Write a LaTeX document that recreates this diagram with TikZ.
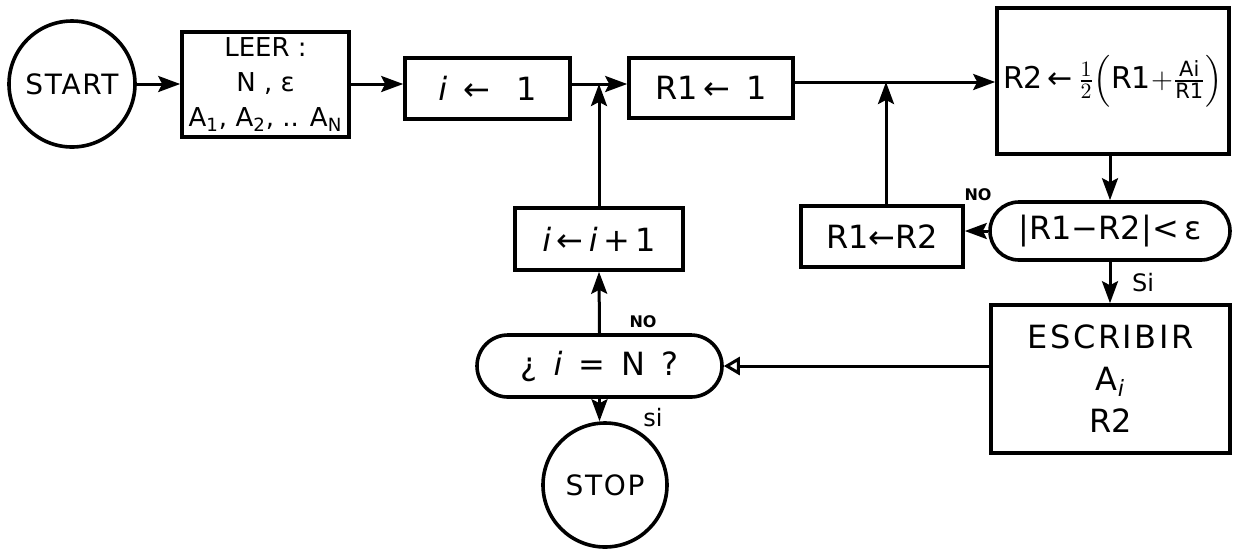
\documentclass[tikz,border=0pt]{standalone}
\usepackage{amsmath}
\usepackage{fontspec}
\setmainfont{DejaVu Sans}
\usetikzlibrary{arrows.meta,shapes.misc}
\tikzset{
  box/.style={draw, line width=1.8pt, rectangle, inner sep=0pt, align=center},
  term/.style={draw, line width=1.8pt, circle, inner sep=0pt, font=\fontsize{14}{16}\selectfont\addfontfeature{LetterSpace=6}},
  stadium/.style={draw, line width=1.8pt, rounded rectangle, inner sep=0pt},
  conn/.style={line width=1.5pt, -{Stealth[length=11pt,width=8pt,inset=2pt]}},
  lbl/.style={font=\fontsize{8}{9}\selectfont\bfseries},
  lbls/.style={font=\fontsize{12}{13}\selectfont},
  big/.style={font=\fontsize{16}{18}\selectfont}
}
\begin{document}
\begin{tikzpicture}[x=0.5pt,y=-0.5pt]
\useasboundingbox (0,0) rectangle (1233,548);
% nodes
\node[term, minimum size=63pt] (start) at (72,84) {START};
\node[box, minimum width=83.5pt, minimum height=52.5pt, font=\fontsize{13}{17.5}\selectfont] (leer) at (265.5,84.5)
  {LEER :\\ N , ε\\ A\textsubscript{1}, A\textsubscript{2}, .. A\textsubscript{N}};
\node[box, big, minimum width=82.5pt, minimum height=30.5pt] (i1) at (487.5,88.5) {\textit{i}\enspace ← \enspace 1};
\node[box, big, minimum width=82pt, minimum height=30pt] (r11) at (711,88) {R1\,←\enspace 1};
\node[box, minimum width=116pt, minimum height=73pt, font=\fontsize{15}{17}\selectfont] (r2) at (1113,81)
  {R2\,←\,$\frac{1}{2}\Bigl(\text{R1}{+}\frac{\text{Ai}}{\text{R1}}\Bigr)$};
\node[stadium, big, minimum width=120pt, minimum height=29pt] (cond) at (1110,231) {|R1−R2|<\,ε};
\node[box, big, minimum width=81pt, minimum height=30.5pt] (r1r2) at (882,236.5) {R1←R2};
\node[box, minimum width=119.5pt, minimum height=74pt, font=\fontsize{16}{21}\selectfont] (esc) at (1110.5,379)
  {\addfontfeature{LetterSpace=8}ESCRIBIR\\ A\textsubscript{\textit{i}}\\ R2};
\node[stadium, big, minimum width=122.5pt, minimum height=31pt] (ieqn) at (599.5,366) {¿\enspace\textit{i}\enspace =\enspace N\enspace ?};
\node[box, big, minimum width=84pt, minimum height=31pt] (iinc) at (599,239) {\textit{i}\,←\,\textit{i}\,+\,1};
\node[term, minimum size=62pt] (stop) at (605,485) {STOP};
% junctions
\coordinate (j1) at (599,84);
\coordinate (j2) at (886,82);
% connectors
\draw[conn] (start) -- (leer.west |- start);
\draw[conn] (leer.east |- j1) -- (i1.west |- j1);
\draw[conn] (i1.east |- j1) -- (r11.west |- j1);
\draw[conn] (iinc.north) -- (j1);
\draw[conn] (r11.east |- j2) -- (r2.west |- j2);
\draw[conn] (j2 |- r1r2.north) -- (j2);
\draw[conn] (r2.south -| cond.north) -- (cond.north);
\draw[conn] (cond.west) -- (cond.west -| r1r2.east);
\draw[conn] (cond.south) -- (esc.north -| cond.south);
\draw[line width=1.5pt, -{Triangle[open,length=8pt,width=9pt]}] (esc.west |- ieqn.east) -- (ieqn.east);
\draw[conn] (ieqn.north) -- (iinc.south);
\draw[conn] (ieqn.south) -- (stop.north -| ieqn.south);
% labels
\node[lbl] (no1) at (978,195) {NO};
\node[lbls] (si1) at (1143,283) {Si};
\node[lbl] (no2) at (643,322) {NO};
\node[lbls] (si2) at (653,418) {si};
\end{tikzpicture}
\end{document}
